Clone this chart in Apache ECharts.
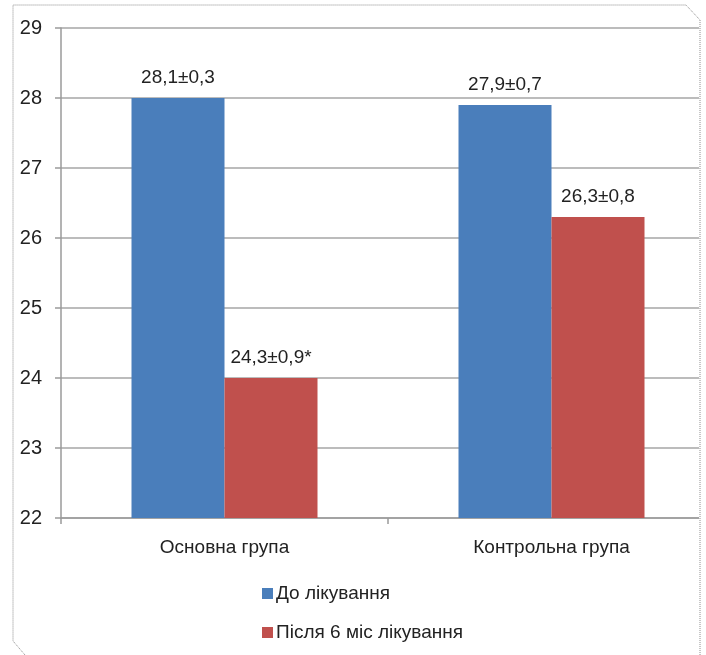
<!DOCTYPE html>
<html>
<head>
<meta charset="utf-8">
<script src="https://cdn.jsdelivr.net/npm/echarts@6/dist/echarts.min.js"></script>
<style>html,body{margin:0;padding:0;background:#fff}#c{width:706px;height:655px}</style>
</head>
<body>
<div id="c"></div>
<script>
const categories = ['Основна група', 'Контрольна група'];
const seriesNames = ['До лікування', 'Після 6 міс лікування'];
const beforeValues = [28, 27.9];
const afterValues = [24, 26.3];
const beforeLabels = ['28,1±0,3', '27,9±0,7'];
const afterLabels = ['24,3±0,9*', '26,3±0,8'];
const yMin = 22, yMax = 29, yStep = 1;

const FONT = '"Liberation Sans Narrow", "Arial Narrow", "Liberation Sans", Arial, sans-serif';
const chart = echarts.init(document.getElementById('c'), null, {renderer: 'canvas'});
const labelStyle = {show: true, position: 'top', distance: 11, fontFamily: FONT, fontSize: 19, color: '#222'};
chart.setOption({
  animation: false,
  backgroundColor: '#fff',
  textStyle: {fontFamily: FONT},
  grid: {left: 61, width: 654, top: 28, bottom: 137, containLabel: false, outerBoundsMode: 'none'},
  legend: {
    orient: 'vertical', left: 257, top: 579,
    itemWidth: 11, itemHeight: 11, itemGap: 20,
    icon: 'rect',
    textStyle: {fontFamily: FONT, fontSize: 19, color: '#222', padding: [0, 0, 0, -2]},
    data: seriesNames
  },
  xAxis: {
    type: 'category', data: categories,
    axisLine: {lineStyle: {color: '#9a9a9a', width: 1.5}},
    axisTick: {show: true, length: 6, lineStyle: {color: '#9a9a9a', width: 1.5}},
    axisLabel: {fontFamily: FONT, fontSize: 19, color: '#222', margin: 20}
  },
  yAxis: {
    type: 'value', min: yMin, max: yMax, interval: yStep,
    axisLine: {show: true, lineStyle: {color: '#9a9a9a', width: 1.5}},
    axisTick: {show: true, length: 6, lineStyle: {color: '#9a9a9a', width: 1.5}},
    axisLabel: {fontFamily: FONT, fontSize: 20, color: '#222', margin: 19},
    splitLine: {lineStyle: {color: '#a6a6a6', width: 1.5}}
  },
  series: [
    {
      name: seriesNames[0], type: 'bar', data: beforeValues,
      itemStyle: {color: '#4A7EBB'},
      barWidth: 93, barGap: '0%',
      label: Object.assign({}, labelStyle, {formatter: p => beforeLabels[p.dataIndex]})
    },
    {
      name: seriesNames[1], type: 'bar', data: afterValues,
      itemStyle: {color: '#C0504D'},
      barWidth: 93, barGap: '0%',
      label: Object.assign({}, labelStyle, {formatter: p => afterLabels[p.dataIndex]})
    }
  ],
  graphic: [
    {type: 'rect', shape: {x: 699, y: 0, width: 10, height: 655}, style: {fill: '#fff'}, z: 100, silent: true},
    {type: 'polyline', shape: {points: [[25, 655], [13, 641], [13, 5], [686, 5], [700, 20], [700, 655]]},
     style: {stroke: '#8c8c8c', lineWidth: 1, lineDash: [1, 1], fill: null}, z: 101, silent: true}
  ]
});
</script>
</body>
</html>
